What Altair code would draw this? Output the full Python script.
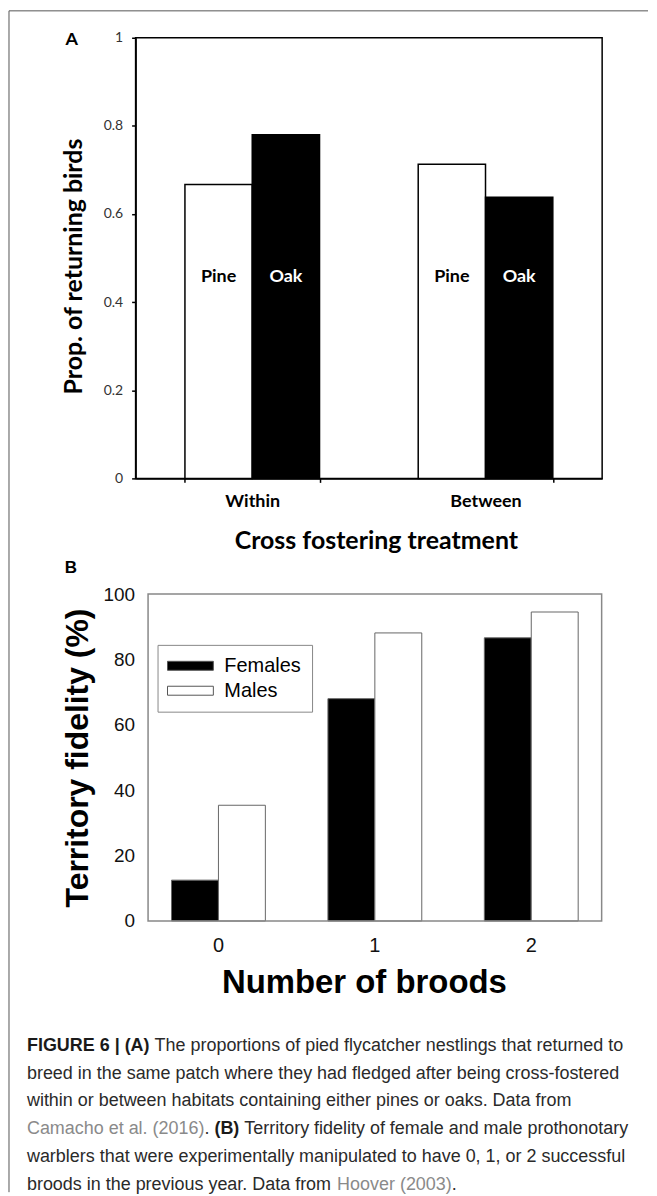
import altair as alt
import pandas as pd

# ---------------- Panel A data ----------------
a_treatment = ["Within", "Within", "Between", "Between"]
a_habitat = ["Pine", "Oak", "Pine", "Oak"]
a_prop = [0.667, 0.780, 0.713, 0.638]
a_order = ["Within", "Between"]
a_hab_order = ["Pine", "Oak"]
a_ticks = [0, 0.2, 0.4, 0.6, 0.8, 1]

# ---------------- Panel B data ----------------
b_broods = ["0", "1", "2"]
b_sex = ["Females", "Males"]
b_females = [12.5, 68.0, 86.6]
b_males = [35.4, 88.1, 94.5]
b_ticks = [0, 20, 40, 60, 80, 100]

# ---------------- Caption text ----------------
caption_lines = [
    [("FIGURE 6 | (A)", "b"), (" The proportions of pied flycatcher nestlings that returned to", "r")],
    [("breed in the same patch where they had fledged after being cross-fostered", "r")],
    [("within or between habitats containing either pines or oaks. Data from", "r")],
    [("Camacho et al. (2016)", "g"), (". ", "r"), ("(B)", "b"),
     (" Territory fidelity of female and male prothonotary", "r")],
    [("warblers that were experimentally manipulated to have 0, 1, or 2 successful", "r")],
    [("broods in the previous year. Data from ", "r"), ("Hoover (2003)", "g"), (".", "r")],
]

# Arial / Liberation Sans advance widths (1/1000 em) used to lay text segments side by side
_reg = {" ": 278, "!": 278, "(": 333, ")": 333, ",": 278, "-": 333, ".": 278, "|": 260, ":": 278}
for _c in "0123456789":
    _reg[_c] = 556
_reg.update(dict(zip("ABCDEFGHIJKLMNOPQRSTUVWXYZ",
                     [667, 667, 722, 722, 667, 611, 778, 722, 278, 500, 667, 556, 833, 722, 778,
                      667, 778, 722, 667, 611, 722, 667, 944, 667, 667, 611])))
_reg.update(dict(zip("abcdefghijklmnopqrstuvwxyz",
                     [556, 556, 500, 556, 556, 278, 556, 556, 222, 222, 500, 222, 833, 556, 556,
                      556, 556, 333, 500, 278, 556, 500, 722, 500, 500, 500])))
_bold = dict(_reg)
_bold.update({"|": 280, "!": 333})
_bold.update(dict(zip("ABCDEFGHIJKLMNOPQRSTUVWXYZ",
                      [722, 722, 722, 722, 667, 611, 778, 722, 278, 556, 722, 611, 833, 722, 778,
                       667, 778, 722, 667, 611, 722, 667, 944, 667, 667, 611])))

CAP_FS = 18


def text_width(s, style):
    tbl = _bold if style == "b" else _reg
    return sum(tbl.get(ch, 556) for ch in s) * CAP_FS / 1000.0


rows = []
for li, segs in enumerate(caption_lines):
    x = -109.0
    for txt, st in segs:
        lead = len(txt) - len(txt.lstrip(" "))
        xs = x + text_width(" " * lead, st)
        if txt.strip():
            rows.append({"line": li, "x": xs, "text": txt.strip(), "style": st})
        x += text_width(txt, st)
cap_df = pd.DataFrame(rows)

# ---------------- Panel A ----------------
dfA = pd.DataFrame({"treatment": a_treatment, "habitat": a_habitat, "prop": a_prop})

xA = alt.X(
    "treatment:N", sort=a_order,
    scale=alt.Scale(paddingInner=0.423, paddingOuter=0.2115),
    axis=alt.Axis(
        title="Cross fostering treatment", labelAngle=0, tickBand="extent",
        tickSize=4, tickColor="black", tickWidth=1.5, domainColor="black", domainWidth=1.5,
        labelFont="Lato", labelFontWeight="bold", labelFontSize=18, labelColor="black",
        labelPadding=10, titleFont="Lato", titleFontSize=25, titleFontWeight="bold",
        titleColor="black", titleX=241, titleY=62, titleBaseline="middle", titleAlign="center",
    ),
)
xoffA = alt.XOffset("habitat:N", sort=a_hab_order, scale=alt.Scale(paddingInner=0, paddingOuter=0))
yA = alt.Y(
    "prop:Q", scale=alt.Scale(domain=[0, 1], nice=False),
    axis=alt.Axis(
        values=a_ticks, format="~g", grid=False, tickSize=4, tickColor="black", tickWidth=1.5,
        domainColor="black", domainWidth=1.5, labelFont="Lato", labelFontSize=14,
        labelColor="#333333", labelPadding=9, title="Prop. of returning birds",
        titleFont="Lato", titleFontSize=25, titleFontWeight="bold", titleColor="black",
        titleX=-62, titleY=229, titleAngle=270, titleBaseline="middle", titleAlign="center",
    ),
)

barsA = alt.Chart(dfA).mark_bar(stroke="black", strokeWidth=1.5).encode(
    x=xA, xOffset=xoffA, y=yA,
    fill=alt.Fill("habitat:N", scale=alt.Scale(domain=a_hab_order, range=["white", "black"]), legend=None),
)
labelsA = alt.Chart(dfA).mark_text(font="Lato", fontWeight="bold", fontSize=18, baseline="middle").encode(
    x=xA, xOffset=xoffA, y=alt.value(240), text="habitat:N",
    color=alt.Color("habitat:N", scale=alt.Scale(domain=a_hab_order, range=["black", "white"]), legend=None),
)
tagA = alt.Chart(pd.DataFrame({"t": ["A"]})).mark_text(
    font="Lato", fontWeight="bold", fontSize=18, baseline="middle", align="center", color="black"
).encode(x=alt.value(-64), y=alt.value(2), text="t:N")

panelA = alt.layer(barsA, labelsA, tagA).properties(
    width=468, height=442, view=alt.ViewBackground(stroke="black", strokeWidth=1.5)
)

# ---------------- Panel B ----------------
dfB = pd.DataFrame({
    "broods": b_broods * 2,
    "sex": [b_sex[0]] * 3 + [b_sex[1]] * 3,
    "fid": b_females + b_males,
})

xB = alt.X(
    "broods:N", sort=b_broods,
    scale=alt.Scale(range=[12.5, 467.5], paddingInner=0.4, paddingOuter=0.15),
    axis=alt.Axis(
        title="Number of broods", labelAngle=0, ticks=False, domain=False,
        labelFont="Liberation Sans", labelFontSize=20, labelColor="#111111", labelPadding=15,
        titleFont="Liberation Sans", titleFontSize=33, titleFontWeight="bold", titleColor="black",
        titleX=229, titleY=62, titleBaseline="middle", titleAlign="center",
    ),
)
yB = alt.Y(
    "fid:Q", scale=alt.Scale(domain=[0, 100], nice=False),
    axis=alt.Axis(
        values=b_ticks, grid=False, ticks=False, domain=False,
        labelFont="Liberation Sans", labelFontSize=19, labelColor="#111111", labelPadding=1,
        title="Territory fidelity (%)", titleFont="Liberation Sans", titleFontSize=32,
        titleFontWeight="bold", titleColor="black", titleX=-58, titleY=164, titleAngle=270,
        titleBaseline="middle", titleAlign="center",
    ),
)

barsB = alt.Chart(dfB).mark_bar(stroke="#666666", strokeWidth=1).encode(
    x=xB,
    xOffset=alt.XOffset("sex:N", sort=b_sex, scale=alt.Scale(paddingInner=0, paddingOuter=0)),
    y=yB,
    fill=alt.Fill(
        "sex:N", scale=alt.Scale(domain=b_sex, range=["black", "white"]),
        legend=alt.Legend(
            title=None, orient="none", legendX=22, legendY=51,
            symbolType="M-2.2,-0.9H7V0.9H-2.2Z", symbolSize=100,
            symbolStrokeColor="#555555", symbolStrokeWidth=1,
            labelFont="Liberation Sans", labelFontSize=20, labelColor="black", labelOffset=36,
            padding=11, strokeColor="#888888", rowPadding=5,
        ),
    ),
)
frameB = alt.Chart(pd.DataFrame({"k": [0]})).mark_rect(
    filled=False, stroke="#888888", strokeWidth=1.5
).encode(x=alt.value(12.5), x2=alt.value(467.5), y=alt.value(0), y2=alt.value(328))
tagB = alt.Chart(pd.DataFrame({"t": ["B"]})).mark_text(
    font="Liberation Sans", fontWeight="bold", fontSize=17, baseline="middle", align="center", color="black"
).encode(x=alt.value(-65), y=alt.value(-26), text="t:N")

panelB = alt.layer(barsB, frameB, tagB).properties(
    width=467.5, height=328, view=alt.ViewBackground(stroke="transparent")
)

# ---------------- Caption ----------------
ycap = alt.Y("line:Q", scale=alt.Scale(domain=[0, 5], range=[9, 149]), axis=None)
xcap = alt.X("x:Q", scale=None, axis=None)
styles = {
    "r": dict(fontWeight="normal", color="#2a2a2a"),
    "b": dict(fontWeight="bold", color="#1a1a1a"),
    "g": dict(fontWeight="normal", color="#8a8a8a"),
}
cap_layers = []
for st, kw in styles.items():
    sub = cap_df[cap_df["style"] == st]
    cap_layers.append(
        alt.Chart(sub).mark_text(font="Liberation Sans", fontSize=CAP_FS, align="left",
                                 baseline="middle", **kw)
        .encode(x=xcap, y=ycap, text="text:N")
    )
one = pd.DataFrame({"k": [0]})
frame_top = alt.Chart(one).mark_rule(color="#555555", strokeWidth=1).encode(
    x=alt.value(-127), x2=alt.value(514), y=alt.value(-1029))
frame_left = alt.Chart(one).mark_rule(color="#555555", strokeWidth=1).encode(
    x=alt.value(-127), y=alt.value(-1029), y2=alt.value(156))

caption = alt.layer(*cap_layers, frame_top, frame_left).properties(
    width=468, height=150, view=alt.ViewBackground(stroke="transparent")
)

chart = alt.vconcat(panelA, panelB, caption, spacing=116, bounds="flush").resolve_scale(
    fill="independent", color="independent", xOffset="independent"
).resolve_legend(fill="independent", color="independent").properties(
    padding=0, background="white"
)

chart.save("out.html", embed_options={"renderer": "svg", "actions": False})
